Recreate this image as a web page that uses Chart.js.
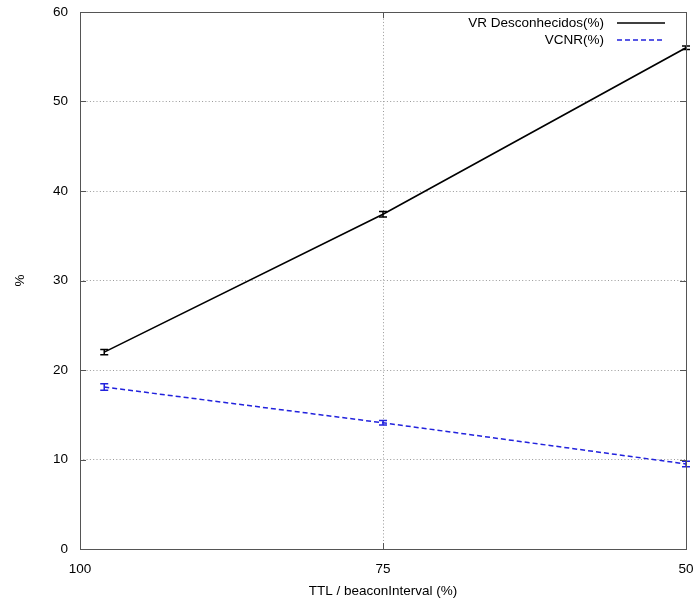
<!DOCTYPE html>
<html>
<head>
<meta charset="utf-8">
<script src="https://cdn.jsdelivr.net/npm/chart.js@4.4.0/dist/chart.umd.min.js"></script>
<style>
html,body{margin:0;padding:0;background:#fff;}
#wrap{width:699px;height:605px;}
</style>
</head>
<body>
<div id="wrap"><canvas id="c" width="699" height="605"></canvas></div>
<script>
const xValues = [98, 75, 50];
const xTicks = [100, 75, 50];
const yTicks = [0, 10, 20, 30, 40, 50, 60];
const seriesNames = ['VR Desconhecidos(%)', 'VCNR(%)'];
const vrValues = [22.0, 37.4, 56.0];
const vrErrors = [0.3, 0.3, 0.2];
const vcnrValues = [18.1, 14.1, 9.5];
const vcnrErrors = [0.35, 0.25, 0.3];

const FONT = 'Liberation Sans, Arial, Helvetica, sans-serif';

const errorBars = {
  id: 'errorBars',
  afterDatasetsDraw(chart) {
    const ctx = chart.ctx;
    const xs = chart.scales.x, ys = chart.scales.y;
    chart.data.datasets.forEach(ds => {
      ctx.save();
      ctx.strokeStyle = ds.borderColor;
      ctx.lineWidth = 1.5;
      ctx.setLineDash([]);
      ds.data.forEach((p, i) => {
        const e = ds.errors[i];
        const px = xs.getPixelForValue(p.x);
        const y1 = ys.getPixelForValue(p.y - e), y2 = ys.getPixelForValue(p.y + e);
        ctx.beginPath();
        ctx.moveTo(px, y1); ctx.lineTo(px, y2);
        ctx.moveTo(px - 4, y1); ctx.lineTo(px + 4, y1);
        ctx.moveTo(px - 4, y2); ctx.lineTo(px + 4, y2);
        ctx.stroke();
      });
      ctx.restore();
    });
  }
};

const frameAndLegend = {
  id: 'frameAndLegend',
  afterDraw(chart) {
    const ctx = chart.ctx, a = chart.chartArea;
    const xs = chart.scales.x, ys = chart.scales.y;
    ctx.save();
    ctx.strokeStyle = '#555';
    ctx.lineWidth = 1;
    ctx.strokeRect(Math.round(a.left) + 0.5, Math.round(a.top) + 0.5, Math.round(a.right - a.left), Math.round(a.bottom - a.top));
    // inward major tick marks on all four sides
    ctx.beginPath();
    yTicks.forEach(v => {
      const py = Math.round(ys.getPixelForValue(v)) + 0.5;
      ctx.moveTo(a.left, py); ctx.lineTo(a.left + 6, py);
      ctx.moveTo(a.right, py); ctx.lineTo(a.right - 6, py);
    });
    xTicks.forEach(v => {
      const px = Math.round(xs.getPixelForValue(v)) + 0.5;
      ctx.moveTo(px, a.bottom); ctx.lineTo(px, a.bottom - 6);
      ctx.moveTo(px, a.top); ctx.lineTo(px, a.top + 6);
    });
    ctx.stroke();
    // legend
    ctx.font = '13.5px ' + FONT;
    ctx.textAlign = 'right';
    ctx.textBaseline = 'middle';
    ctx.fillStyle = '#000';
    const textRight = a.right - 82;
    const lx1 = a.right - 69, lx2 = a.right - 21;
    chart.data.datasets.forEach((ds, i) => {
      const y = a.top + 11 + i * 17;
      ctx.fillText(ds.label, textRight, y);
      ctx.beginPath();
      ctx.strokeStyle = ds.borderColor;
      ctx.lineWidth = 1.5;
      ctx.setLineDash(ds.borderDash || []);
      ctx.moveTo(lx1, y); ctx.lineTo(lx2, y);
      ctx.stroke();
    });
    ctx.restore();
  }
};

new Chart(document.getElementById('c'), {
  type: 'scatter',
  data: {
    datasets: [
      {
        label: seriesNames[0],
        data: xValues.map((x, i) => ({x, y: vrValues[i]})),
        errors: vrErrors,
        showLine: true,
        borderColor: '#000000',
        borderWidth: 1.6,
        pointRadius: 0,
        fill: false
      },
      {
        label: seriesNames[1],
        data: xValues.map((x, i) => ({x, y: vcnrValues[i]})),
        errors: vcnrErrors,
        showLine: true,
        borderColor: '#2222dd',
        borderDash: [5, 3],
        borderWidth: 1.5,
        pointRadius: 0,
        fill: false
      }
    ]
  },
  options: {
    responsive: false,
    animation: false,
    devicePixelRatio: 1,
    layout: {padding: {top: 12, right: 13, left: 0, bottom: 0}},
    plugins: {legend: {display: false}, tooltip: {enabled: false}},
    scales: {
      x: {
        type: 'linear',
        reverse: true,
        min: 50, max: 100,
        afterBuildTicks: s => { s.ticks = xTicks.map(v => ({value: v})); },
        afterFit: s => { s.height = 56; s.paddingLeft = 0; s.paddingRight = 0; },
        ticks: {color: '#000', font: {family: FONT, size: 13.5}, padding: 12, maxRotation: 0},
        grid: {color: '#999999', lineWidth: 1, drawTicks: false},
        border: {display: false, dash: [1, 2.3]},
        title: {display: true, text: 'TTL / beaconInterval (%)', color: '#000', font: {family: FONT, size: 13.5}, padding: {top: 4, bottom: 6}}
      },
      y: {
        min: 0, max: 60,
        afterBuildTicks: s => { s.ticks = yTicks.map(v => ({value: v})); },
        afterFit: s => { s.width = 80; s.paddingTop = 0; s.paddingBottom = 0; },
        ticks: {color: '#000', font: {family: FONT, size: 13.5}, padding: 12},
        grid: {color: '#999999', lineWidth: 1, drawTicks: false},
        border: {display: false, dash: [1, 2.3]},
        title: {display: true, text: '%', color: '#000', font: {family: FONT, size: 13.5}, padding: {top: 12, bottom: 0}}
      }
    }
  },
  plugins: [errorBars, frameAndLegend]
});
</script>
</body>
</html>
